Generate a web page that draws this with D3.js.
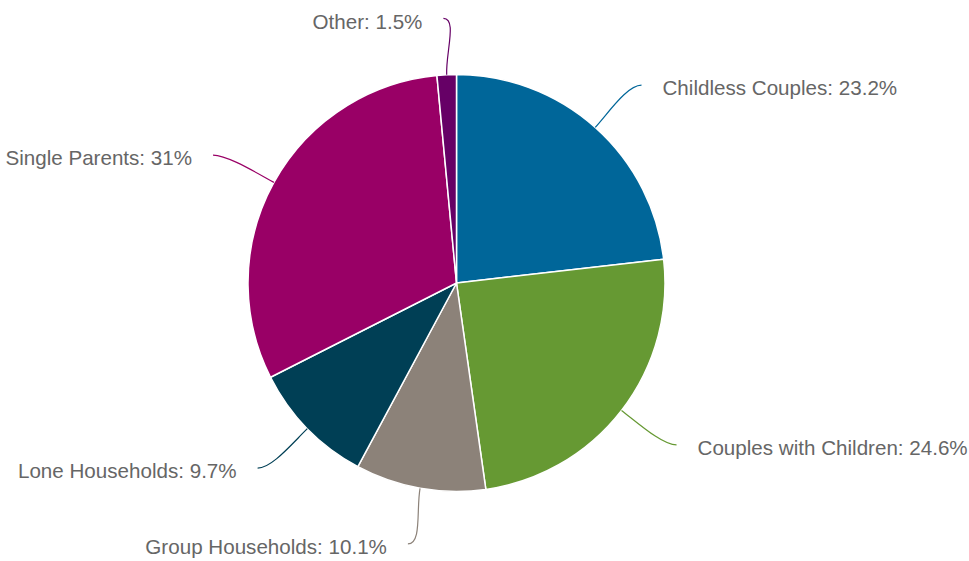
<!DOCTYPE html>
<html>
<head>
<meta charset="utf-8">
<script src="https://cdn.jsdelivr.net/npm/d3@7"></script>
<style>
  html, body { margin: 0; padding: 0; background: #fff; }
  svg { display: block; }
</style>
</head>
<body>
<svg id="chart" width="969" height="561"></svg>
<script>
const categories = ["Childless Couples", "Couples with Children", "Group Households", "Lone Households", "Single Parents", "Other"];
const values = [23.2, 24.6, 10.1, 9.7, 31, 1.5];
const labels = ["Childless Couples: 23.2%", "Couples with Children: 24.6%", "Group Households: 10.1%", "Lone Households: 9.7%", "Single Parents: 31%", "Other: 1.5%"];
const colors = ["#006699", "#669933", "#8c8279", "#003f55", "#990066", "#660066"];

const W = 969, H = 561;
const cx = 456.5, cy = 283, r = 208.5;
const labelRy = 265, labelRx = 278;

const svg = d3.select("#chart");
const g = svg.append("g").attr("transform", `translate(${cx},${cy})`);

const data = categories.map((c, i) => ({ name: c, value: values[i], label: labels[i], color: colors[i] }));

const pie = d3.pie().value(d => d.value).sort(null).startAngle(0).endAngle(2 * Math.PI);
const arcs = pie(data);
const arc = d3.arc().innerRadius(0).outerRadius(r);

g.selectAll("path.slice")
  .data(arcs)
  .enter().append("path")
  .attr("class", "slice")
  .attr("d", arc)
  .attr("fill", d => d.data.color)
  .attr("stroke", "#ffffff")
  .attr("stroke-width", 1.5)
  .attr("stroke-linejoin", "round");

function geom(d) {
  const a = (d.startAngle + d.endAngle) / 2;
  const s = Math.sin(a), c = Math.cos(a);
  const p0 = [r * s, -r * c];
  const p3 = [labelRx * s, -labelRy * c];
  const side = s >= 0 ? 1 : -1;
  const p1 = [(r + 22) * s, -(r + 22) * c];
  const p2 = [p3[0] - side * 14, p3[1]];
  return { p0, p1, p2, p3, side };
}

g.selectAll("path.connector")
  .data(arcs)
  .enter().append("path")
  .attr("class", "connector")
  .attr("d", d => {
    const q = geom(d);
    return `M${q.p0[0]},${q.p0[1]} C${q.p1[0]},${q.p1[1]} ${q.p2[0]},${q.p2[1]} ${q.p3[0]},${q.p3[1]}`;
  })
  .attr("fill", "none")
  .attr("stroke", d => d.data.color)
  .attr("stroke-width", 1.2);

g.selectAll("text.label")
  .data(arcs)
  .enter().append("text")
  .attr("class", "label")
  .attr("x", d => { const q = geom(d); return q.p3[0] + q.side * 21; })
  .attr("y", d => geom(d).p3[1] + 3)
  .attr("dy", "0.35em")
  .attr("text-anchor", d => geom(d).side > 0 ? "start" : "end")
  .attr("font-family", "'Liberation Sans', Arial, sans-serif")
  .attr("font-size", "20.6px")
  .attr("fill", "#666666")
  .text(d => d.data.label);
</script>
</body>
</html>
